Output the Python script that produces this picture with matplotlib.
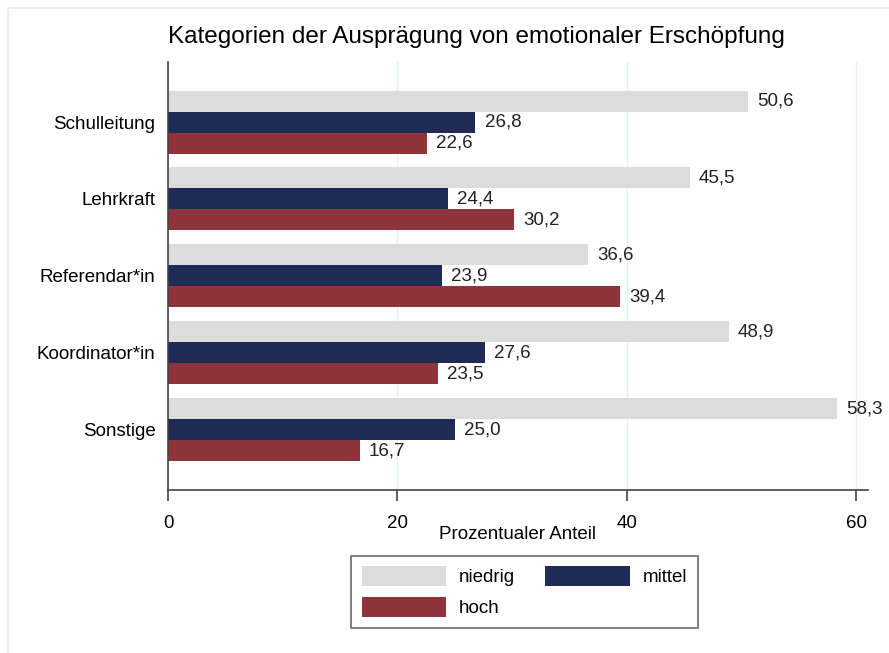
import numpy as np
import matplotlib.pyplot as plt
from matplotlib.patches import Rectangle

plt.rcParams['font.family'] = ['Liberation Sans', 'DejaVu Sans']

# Daten
kategorien = ["Schulleitung", "Lehrkraft", "Referendar*in", "Koordinator*in", "Sonstige"]
niedrig = [50.6, 45.5, 36.6, 48.9, 58.3]
mittel = [26.8, 24.4, 23.9, 27.6, 25.0]
hoch = [22.6, 30.2, 39.4, 23.5, 16.7]
serien = ["niedrig", "mittel", "hoch"]
farben = ["#dcdcdc", "#1f2b54", "#8e353b"]
xticks = [0, 20, 40, 60]

fs = 13.5

fig = plt.figure(figsize=(8.89, 6.53), dpi=100)
fig.patches.append(Rectangle((0.009, -0.1), 1.2, 1.088, transform=fig.transFigure,
                             fill=False, edgecolor="#e6eef2", lw=1.5))
ax = fig.add_axes([0.189, 0.250, 0.787, 0.655])

y = np.arange(len(kategorien))
h = 0.273
balken = []
for k, (werte, farbe, name) in enumerate(zip([niedrig, mittel, hoch], farben, serien)):
    pos = y + (k - 1) * h
    balken.append(ax.barh(pos, werte, height=h, color=farbe, label=name, zorder=2))
    for p, w in zip(pos, werte):
        ax.text(w + 0.8, p, f"{w:.1f}".replace(".", ","), va="center", ha="left",
                fontsize=fs, color="#222222")

ax.set_ylim(len(kategorien) - 1 + 0.78, -0.78)
ax.set_xlim(0, 61)
ax.set_yticks(y)
ax.set_yticklabels(kategorien, fontsize=fs)
ax.set_xticks(xticks)
ax.set_xticklabels([str(t) for t in xticks], fontsize=fs)
ax.tick_params(axis="y", length=0, pad=9)
ax.tick_params(axis="x", length=8, width=1.2, color="#444444", pad=10)
ax.grid(axis="x", color="#e6f0f2", lw=1, zorder=0)
for s in ["top", "right"]:
    ax.spines[s].set_visible(False)
for s in ["left", "bottom"]:
    ax.spines[s].set_color("#444444")
    ax.spines[s].set_linewidth(1.2)
ax.set_xlabel("Prozentualer Anteil", fontsize=fs, labelpad=-4)
fig.text(0.536, 1 - 37 / 653, "Kategorien der Ausprägung von emotionaler Erschöpfung",
         fontsize=17.5, ha="center", va="center")

# Reihenfolge so, dass Zeile 1: niedrig, mittel; Zeile 2: hoch
leg = fig.legend([balken[0], balken[2], balken[1]], [serien[0], serien[2], serien[1]],
                 loc="center", bbox_to_anchor=(0.59, 0.094), ncol=2, fontsize=fs,
                 handlelength=4.5, handleheight=1.3, columnspacing=1.6, handletextpad=0.7,
                 labelspacing=0.55, fancybox=False, edgecolor="#444444", borderpad=0.55)
leg.get_frame().set_linewidth(1.2)

fig.savefig("out.png", dpi=100)
